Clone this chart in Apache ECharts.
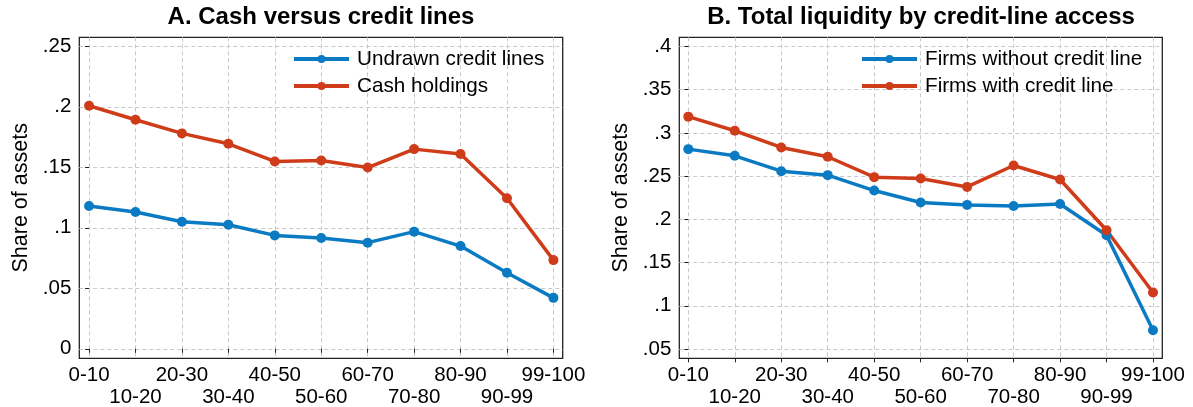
<!DOCTYPE html>
<html>
<head>
<meta charset="utf-8">
<script src="https://cdn.jsdelivr.net/npm/echarts@6/dist/echarts.min.js"></script>
<style>
html,body{margin:0;padding:0;background:#fff;}
#c{width:1193px;height:407px;}
</style>
</head>
<body>
<div id="c"></div>
<script>
// ---- data ----
const categories = ['0-10','10-20','20-30','30-40','40-50','50-60','60-70','70-80','80-90','90-99','99-100'];
const undrawnCreditLines = [0.118, 0.113, 0.105, 0.1025, 0.0937, 0.0915, 0.0877, 0.0968, 0.0849, 0.0628, 0.0421];
const cashHoldings = [0.2008, 0.1893, 0.1780, 0.1694, 0.1548, 0.1556, 0.1498, 0.1650, 0.1610, 0.1244, 0.0733];
const firmsWithoutCreditLine = [0.2812, 0.2735, 0.2557, 0.2511, 0.2333, 0.2195, 0.2167, 0.2155, 0.2178, 0.1815, 0.0717];
const firmsWithCreditLine = [0.3188, 0.3025, 0.2832, 0.2724, 0.2488, 0.2472, 0.2375, 0.2623, 0.2461, 0.1873, 0.1154];
const yTicksA = [0, 0.05, 0.1, 0.15, 0.2, 0.25];
const yTicksB = [0.05, 0.1, 0.15, 0.2, 0.25, 0.3, 0.35, 0.4];
const titleA = 'A. Cash versus credit lines';
const titleB = 'B. Total liquidity by credit-line access';
const yName = 'Share of assets';

const BLUE = '#0A7BC2';
const RED = '#CF3C1A';
const FONT = '"Liberation Sans", Arial, Helvetica, sans-serif';
const catIdx = categories.map((c, i) => i);
const evenIdx = catIdx.filter(i => i % 2 === 0);
const oddIdx = catIdx.filter(i => i % 2 === 1);

const fmtY = v => (v === 0 ? '0' : String(+Number(v).toFixed(3)).replace(/^0\./, '.'));
const fmtX = v => categories[Math.round(v)];

// main x axis: ticks, grid lines and first-row labels
function xAxisMain(gridIndex, min, max) {
  return {
    type: 'value', gridIndex, min, max, position: 'bottom',
    axisLine: {show: false},
    axisTick: {show: true, inside: false, length: 4, customValues: catIdx, lineStyle: {color: '#222', width: 1}},
    axisLabel: {
      customValues: evenIdx, margin: 7, color: '#000', fontFamily: FONT, fontSize: 20.5,
      showMinLabel: true, showMaxLabel: true, hideOverlap: false, formatter: fmtX
    },
    splitLine: {show: true, lineStyle: {color: '#c8c8c8', width: 1, type: [4, 3]}}
  };
}
// helper x axis: second-row labels only
function xAxisRow2(gridIndex, min, max) {
  return {
    type: 'value', gridIndex, min, max, position: 'bottom', offset: 0,
    axisLine: {show: false}, axisTick: {show: false}, splitLine: {show: false},
    axisLabel: {
      customValues: oddIdx, margin: 28.5, color: '#000', fontFamily: FONT, fontSize: 20.5,
      showMinLabel: true, showMaxLabel: true, hideOverlap: false, formatter: fmtX
    }
  };
}
function yAxis(gridIndex, min, max, ticks) {
  return {
    type: 'value', gridIndex, min, max, position: 'left',
    name: yName, nameLocation: 'middle', nameGap: 47,
    nameTextStyle: {color: '#000', fontFamily: FONT, fontSize: 21.5},
    axisLine: {show: false},
    axisTick: {show: true, inside: false, length: 4, customValues: ticks, lineStyle: {color: '#222', width: 1}},
    axisLabel: {customValues: ticks, margin: 8, color: '#000', fontFamily: FONT, fontSize: 20.5,
      showMinLabel: true, showMaxLabel: true, hideOverlap: false, formatter: fmtY},
    splitLine: {show: true, lineStyle: {color: '#c8c8c8', width: 1, type: [4, 3]}}
  };
}
function lineSeries(name, values, color, xi, yi) {
  return {
    type: 'line', name, xAxisIndex: xi, yAxisIndex: yi,
    data: values.map((v, i) => [i, v]),
    symbol: 'circle', symbolSize: 10, showSymbol: true,
    lineStyle: {color, width: 3.5}, itemStyle: {color},
    emphasis: {disabled: true}, animation: false, z: 3
  };
}
const legendBase = {
  orient: 'vertical', itemWidth: 55, itemHeight: 10, itemGap: 0, padding: 0,
  lineStyle: {width: 4},
  textStyle: {color: '#000', fontFamily: FONT, fontSize: 20.7, lineHeight: 27, padding: [0, 0, 0, 3]},
  selectedMode: false
};
const gridBase = {
  top: 37.3, height: 321, show: true, borderColor: '#222', borderWidth: 1.3,
  backgroundColor: 'transparent', containLabel: false, outerBoundsMode: 'none'
};

const chart = echarts.init(document.getElementById('c'), null, {renderer: 'canvas'});
chart.setOption({
  backgroundColor: '#fff',
  animation: false,
  title: [
    {text: titleA, left: 321, top: 3, textAlign: 'center', padding: 0,
     textStyle: {fontFamily: FONT, fontWeight: 'bold', fontSize: 24, color: '#000', lineHeight: 28}},
    {text: titleB, left: 921, top: 3, textAlign: 'center', padding: 0,
     textStyle: {fontFamily: FONT, fontWeight: 'bold', fontSize: 24, color: '#000', lineHeight: 28}}
  ],
  legend: [
    Object.assign({}, legendBase, {left: 292, top: 45.5, data: ['Undrawn credit lines', 'Cash holdings']}),
    Object.assign({}, legendBase, {left: 860, top: 45.5, data: ['Firms without credit line', 'Firms with credit line']})
  ],
  grid: [
    Object.assign({}, gridBase, {left: 79.3, width: 483.4}),
    Object.assign({}, gridBase, {left: 679.3, width: 483})
  ],
  xAxis: [
    xAxisMain(0, -0.21, 10.2), xAxisMain(1, -0.194, 10.2),
    xAxisRow2(0, -0.21, 10.2), xAxisRow2(1, -0.194, 10.2)
  ],
  yAxis: [yAxis(0, -0.00785, 0.2574, yTicksA), yAxis(1, 0.0392, 0.4106, yTicksB)],
  series: [
    lineSeries('Undrawn credit lines', undrawnCreditLines, BLUE, 0, 0),
    lineSeries('Cash holdings', cashHoldings, RED, 0, 0),
    lineSeries('Firms without credit line', firmsWithoutCreditLine, BLUE, 1, 1),
    lineSeries('Firms with credit line', firmsWithCreditLine, RED, 1, 1)
  ]
});
</script>
</body>
</html>
